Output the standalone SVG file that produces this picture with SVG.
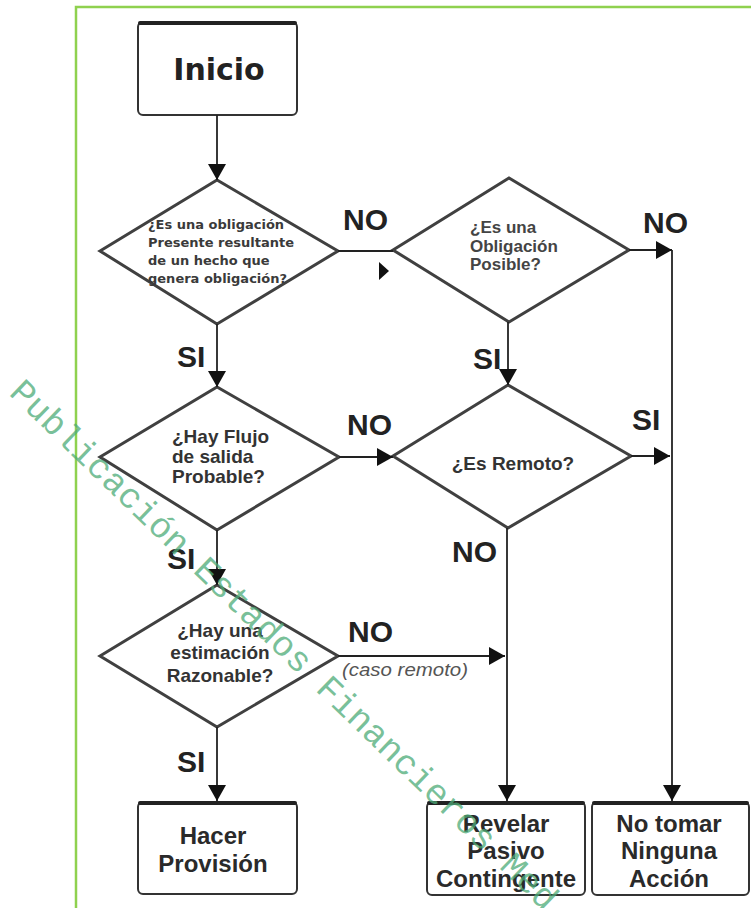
<svg xmlns="http://www.w3.org/2000/svg" width="751" height="908" viewBox="0 0 751 908">
<style>
.box{fill:#fff;stroke:#333;stroke-width:2}
.top{stroke:#222;stroke-width:4;fill:none;stroke-linecap:round}
.dia{fill:#fff;stroke:#404040;stroke-width:3;stroke-linejoin:miter}
.bt{font-family:"Liberation Sans",Arial,sans-serif;font-weight:bold;font-size:24px;fill:#2a2a2a;text-anchor:middle}
.lab{font-family:"Liberation Sans",Arial,sans-serif;font-weight:bold;font-size:30px;fill:#222}
.q{font-family:"Liberation Sans",Arial,sans-serif;font-weight:bold;font-size:19px;fill:#333}
.conn line,.conn polyline{stroke:#222;stroke-width:1.8;fill:none}
</style>
<defs>
<marker id="ah" viewBox="0 0 16 18" refX="16" refY="9" markerWidth="16" markerHeight="18" markerUnits="userSpaceOnUse" orient="auto">
<path d="M0,0 L16,9 L0,18 z" fill="#111"/>
</marker>
</defs>
<rect x="0" y="0" width="751" height="908" fill="#fff"/>
<path d="M76,908 V7 H751" fill="none" stroke="#8fd14f" stroke-width="2.5"/>

<g id="inicio">
<rect class="box" x="138" y="22" width="159" height="93" rx="5"/>
<path class="top" d="M140,23 H295"/>
<text x="219" y="80" font-family="'DejaVu Sans',Verdana,sans-serif" font-weight="bold" font-size="30" fill="#222" text-anchor="middle">Inicio</text>
</g>

<g id="d-obligacion">
<polygon class="dia" points="100,251 217,180 338,251 217,324"/>
<g font-family="'DejaVu Sans',Verdana,sans-serif" font-weight="bold" font-size="13" fill="#3a3a3a">
<text x="148" y="229">¿Es una obligación</text>
<text x="148" y="247">Presente resultante</text>
<text x="148" y="265">de un hecho que</text>
<text x="148" y="283">genera obligación?</text>
</g>
</g>

<g id="d-posible">
<polygon class="dia" points="393,250 509,178 629,250 509,322"/>
<g font-family="'Liberation Sans',Arial,sans-serif" font-weight="bold" font-size="17" fill="#444">
<text x="470" y="233">¿Es una</text>
<text x="470" y="252">Obligación</text>
<text x="470" y="270">Posible?</text>
</g>
</g>

<g id="d-flujo">
<polygon class="dia" points="100,457 217,387 339,457 217,530"/>
<text class="q" x="172" y="443">¿Hay Flujo</text>
<text class="q" x="172" y="463">de salida</text>
<text class="q" x="172" y="483">Probable?</text>
</g>

<g id="d-remoto">
<polygon class="dia" points="393,456 508,385 631,456 508,528"/>
<text class="q" x="513" y="470" text-anchor="middle">¿Es Remoto?</text>
</g>

<g id="d-estimacion">
<polygon class="dia" points="100,656 217,585 338,656 217,727"/>
<text class="q" x="220" y="637" text-anchor="middle">¿Hay una</text>
<text class="q" x="220" y="659" text-anchor="middle">estimación</text>
<text class="q" x="220" y="682" text-anchor="middle">Razonable?</text>
</g>

<g id="hacer">
<rect class="box" x="138" y="802" width="159" height="92" rx="5"/>
<path class="top" d="M140,803 H295"/>
<text class="bt" x="213" y="844">Hacer</text>
<text class="bt" x="213" y="872">Provisión</text>
</g>

<g id="revelar">
<rect class="box" x="427" y="802" width="158" height="93" rx="5"/>
<path class="top" d="M429,803 H583"/>
<text class="bt" x="506" y="832">Revelar</text>
<text class="bt" x="506" y="859">Pasivo</text>
<text class="bt" x="506" y="887">Contingente</text>
</g>

<g id="no-tomar">
<rect class="box" x="592" y="802" width="157" height="93" rx="5"/>
<path class="top" d="M594,803 H747"/>
<text class="bt" x="669" y="832">No tomar</text>
<text class="bt" x="669" y="859">Ninguna</text>
<text class="bt" x="669" y="887">Acción</text>
</g>

<g id="connectors" class="conn">
<line x1="217" y1="115" x2="217" y2="180" marker-end="url(#ah)"/>
<line x1="217" y1="324" x2="217" y2="387" marker-end="url(#ah)"/>
<line x1="217" y1="530" x2="217" y2="585" marker-end="url(#ah)"/>
<line x1="217" y1="727" x2="217" y2="801" marker-end="url(#ah)"/>
<line x1="338" y1="251" x2="393" y2="251"/>
<polygon points="379,262 389,271 379,280" fill="#111"/>
<line x1="629" y1="250" x2="672" y2="250" marker-end="url(#ah)"/>
<line x1="672" y1="250" x2="672" y2="801" marker-end="url(#ah)"/>
<line x1="508" y1="322" x2="508" y2="385" marker-end="url(#ah)"/>
<line x1="339" y1="457" x2="393" y2="457" marker-end="url(#ah)"/>
<line x1="631" y1="456" x2="670" y2="456" marker-end="url(#ah)"/>
<line x1="507" y1="528" x2="507" y2="801" marker-end="url(#ah)"/>
<line x1="338" y1="656" x2="505" y2="656" marker-end="url(#ah)"/>
</g>

<g id="labels">
<text class="lab" x="343" y="230">NO</text>
<text class="lab" x="643" y="233">NO</text>
<text class="lab" x="177" y="367">SI</text>
<text class="lab" x="473" y="369">SI</text>
<text class="lab" x="347" y="435">NO</text>
<text class="lab" x="632" y="430">SI</text>
<text class="lab" x="452" y="562">NO</text>
<text class="lab" x="167" y="569">SI</text>
<text class="lab" x="348" y="642">NO</text>
<text class="lab" x="177" y="772">SI</text>
<text x="342" y="676" font-family="'Liberation Sans',Arial,sans-serif" font-style="italic" font-size="18" fill="#555" textLength="126" lengthAdjust="spacingAndGlyphs">(caso remoto)</text>
</g>

<text x="8" y="394" transform="rotate(44 8 394)" font-family="'Liberation Mono','Courier New',monospace" font-size="35.5" fill="#4dab78" fill-opacity="0.75">Publicación Estados Financieros Med</text>
</svg>
